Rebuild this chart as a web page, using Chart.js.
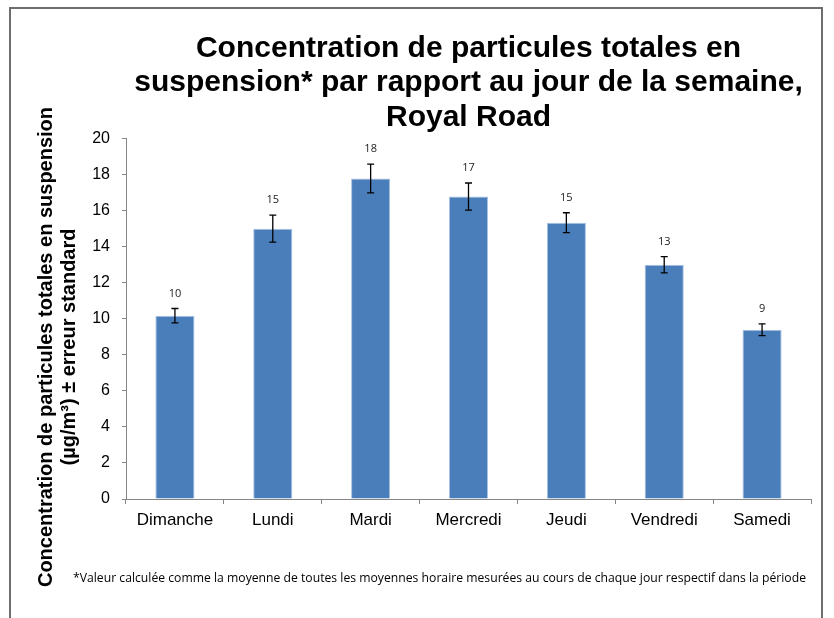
<!DOCTYPE html>
<html>
<head>
<meta charset="utf-8">
<script src="https://cdn.jsdelivr.net/npm/chart.js@4"></script>
<style>
  html, body { margin: 0; padding: 0; background: #fff; }
  #wrap { width: 834px; height: 618px; position: relative; }
</style>
</head>
<body>
<div id="wrap"><canvas id="chart" width="834" height="618"></canvas></div>
<script>
// jours de la semaine
const days = ['Dimanche', 'Lundi', 'Mardi', 'Mercredi', 'Jeudi', 'Vendredi', 'Samedi'];
// concentration moyenne (µg/m³)
const concentration = [10.17, 15.0, 17.78, 16.78, 15.33, 13.0, 9.39];
// erreur standard
const stdError = [0.4, 0.75, 0.8, 0.75, 0.55, 0.45, 0.33];
const yTicks = [0, 2, 4, 6, 8, 10, 12, 14, 16, 18, 20];

const titleLines = [
    'Concentration de particules totales en',
    'suspension* par rapport au jour de la semaine,',
    'Royal Road'
];
const yTitleLines = [
    'Concentration de particules totales en suspension',
    '(µg/m³) ± erreur standard'
];
const footnote = '*Valeur calculée comme la moyenne de toutes les moyennes horaire mesurées au cours de chaque jour respectif dans la période';

const axisGrey = '#868686';

// error bars + value labels, drawn through the chart scales
const errorBars = {
    id: 'errorBars',
    afterDatasetsDraw(chart) {
        const ctx = chart.ctx;
        const x = chart.scales.x;
        const y = chart.scales.y;
        ctx.save();
        ctx.strokeStyle = '#000';
        ctx.lineWidth = 1.3;
        concentration.forEach((v, i) => {
            const cx = x.getPixelForValue(i);
            const top = y.getPixelForValue(v + stdError[i]);
            const bot = y.getPixelForValue(v - stdError[i]);
            ctx.beginPath();
            ctx.moveTo(cx, top); ctx.lineTo(cx, bot);
            ctx.moveTo(cx - 3.5, top); ctx.lineTo(cx + 3.5, top);
            ctx.moveTo(cx - 3.5, bot); ctx.lineTo(cx + 3.5, bot);
            ctx.stroke();

            ctx.fillStyle = '#222';
            ctx.font = '11px "Open Sans", "Noto Sans", sans-serif';
            ctx.textAlign = 'center';
            ctx.textBaseline = 'middle';
            ctx.fillText(String(Math.round(v)), cx, top - 15);
        });
        ctx.restore();
    }
};

// frame, y axis title and footnote
const extras = {
    id: 'extras',
    afterDraw(chart) {
        const ctx = chart.ctx;
        ctx.save();
        ctx.strokeStyle = '#6e6e6e';
        ctx.lineWidth = 2;
        ctx.strokeRect(10, 8, 812, 640);

        ctx.fillStyle = '#000';
        ctx.font = 'bold 20px "Liberation Sans", Arial, sans-serif';
        ctx.textAlign = 'center';
        ctx.textBaseline = 'middle';
        ctx.translate(46, 347);
        ctx.rotate(-Math.PI / 2);
        ctx.fillText(yTitleLines[0], 0, 0);
        ctx.fillText(yTitleLines[1], 0, 23);
        ctx.restore();

        ctx.save();
        ctx.fillStyle = '#000';
        ctx.font = '12px "Open Sans", "Noto Sans", sans-serif';
        ctx.textBaseline = 'middle';
        ctx.textAlign = 'left';
        const w = ctx.measureText(footnote).width;
        const k = 733 / w;
        ctx.translate(73, 579);
        ctx.scale(k, 1);
        ctx.fillText(footnote, 0, 0);
        ctx.restore();
    }
};

new Chart(document.getElementById('chart'), {
    type: 'bar',
    data: {
        labels: days,
        datasets: [{
            data: concentration,
            backgroundColor: '#4a7ebb',
            borderColor: '#a9c2e2',
            borderWidth: { top: 1, left: 1, right: 1, bottom: 0 },
            barPercentage: 0.4,
            categoryPercentage: 1.0
        }]
    },
    options: {
        responsive: false,
        animation: false,
        layout: { padding: { top: 31, right: 23, bottom: 0, left: 0 } },
        plugins: {
            legend: { display: false },
            tooltip: { enabled: false },
            title: {
                display: true,
                text: titleLines,
                fullSize: false,
                color: '#000',
                font: { family: '"Liberation Sans", Arial, sans-serif', size: 30, weight: 'bold', lineHeight: 1.15 },
                padding: { top: 0, bottom: 4 }
            }
        },
        scales: {
            x: {
                afterFit(scale) { scale.height = 119; },
                border: { color: axisGrey, width: 1 },
                grid: { drawOnChartArea: false, color: axisGrey, tickLength: 5, offset: true },
                ticks: { color: '#000', padding: 6, font: { family: '"Liberation Sans", Arial, sans-serif', size: 17 } }
            },
            y: {
                min: 0,
                max: 20,
                afterFit(scale) { scale.width = 126; },
                afterBuildTicks(scale) { scale.ticks = yTicks.map(v => ({ value: v })); },
                border: { color: axisGrey, width: 1 },
                grid: { drawOnChartArea: false, color: axisGrey, tickLength: 4 },
                ticks: { color: '#000', padding: 12, font: { family: '"Liberation Sans", Arial, sans-serif', size: 16 } }
            }
        }
    },
    plugins: [errorBars, extras]
});
</script>
</body>
</html>
